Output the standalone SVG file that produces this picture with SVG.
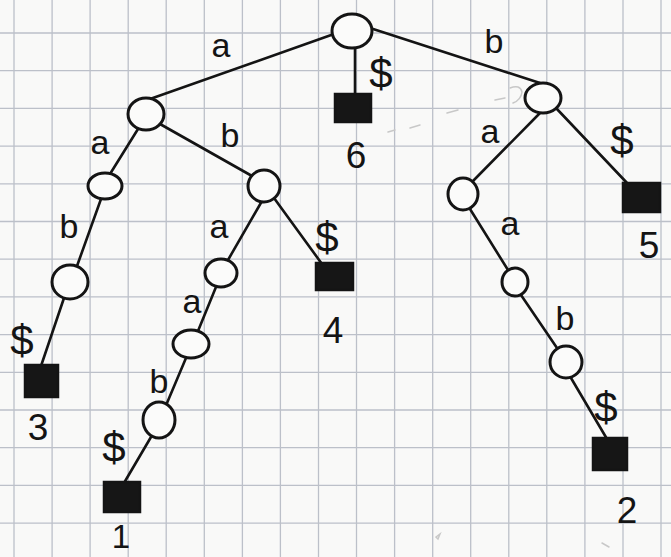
<svg xmlns="http://www.w3.org/2000/svg" width="671" height="557" viewBox="0 0 671 557">
<defs>
<style>
.grid{stroke:#bcc0c9;stroke-width:1.3;fill:none}
.edge{stroke:#141414;stroke-width:2.6;stroke-linecap:round;fill:none}
.node{fill:#fbfbfa;stroke:#141414;stroke-width:3}
.leaf{fill:#161616;stroke:#141414;stroke-width:2.5}
.lbl{font-family:"Liberation Sans","DejaVu Sans",sans-serif;font-size:34px;fill:#141414;text-anchor:middle}
.num{font-family:"Liberation Sans","DejaVu Sans",sans-serif;font-size:37px;fill:#141414;text-anchor:middle}
.dol{font-family:"Liberation Sans","DejaVu Sans",sans-serif;font-size:42px;fill:#141414;text-anchor:middle}
.smudge{stroke:#c8c8c8;stroke-width:1.5;fill:none;stroke-linecap:round}
</style>
</defs>
<rect width="671" height="557" fill="#f9f9f8"/>
<g id="grid">
<path class="grid" d="M14 0V557M52.1 0V557M90.1 0V557M128.2 0V557M166.2 0V557M204.3 0V557M242.4 0V557M280.4 0V557M318.5 0V557M356.5 0V557M394.6 0V557M432.7 0V557M470.7 0V557M508.8 0V557M546.8 0V557M584.9 0V557M623 0V557M661 0V557"/>
<path class="grid" d="M0 33H671M0 70.7H671M0 108.4H671M0 146.1H671M0 183.8H671M0 221.5H671M0 259.2H671M0 296.9H671M0 334.6H671M0 372.3H671M0 410H671M0 447.7H671M0 485.4H671M0 523.1H671"/>
</g>
<g id="smudges">
<path class="smudge" d="M510 88 Q520 84 522 92 Q521 100 513 103"/>
<path class="smudge" d="M495 100 L505 98"/>
<path class="smudge" d="M447 113 L458 110"/>
<path class="smudge" d="M410 128 L420 125"/>
<path class="smudge" d="M388 132 L395 130"/>
<path class="smudge" d="M436 537 l4 -3 l-2 5 z"/>
<path class="smudge" d="M602 543 l7 4"/>
</g>
<g id="connectors">
<line class="edge" x1="334" y1="34" x2="150" y2="99"/>
<line class="edge" x1="370" y1="28" x2="540" y2="83"/>
<line class="edge" x1="355" y1="48" x2="355" y2="95"/>
<line class="edge" x1="138" y1="129" x2="110" y2="174"/>
<line class="edge" x1="160" y1="124" x2="252" y2="176"/>
<line class="edge" x1="101" y1="199" x2="77" y2="266"/>
<line class="edge" x1="64" y1="298" x2="41" y2="366"/>
<line class="edge" x1="262" y1="201" x2="228" y2="260"/>
<line class="edge" x1="274" y1="198" x2="322" y2="264"/>
<line class="edge" x1="216" y1="287" x2="198" y2="331"/>
<line class="edge" x1="186" y1="358" x2="167" y2="403"/>
<line class="edge" x1="151" y1="437" x2="124" y2="483"/>
<line class="edge" x1="540" y1="113" x2="473" y2="181"/>
<line class="edge" x1="556" y1="108" x2="628" y2="184"/>
<line class="edge" x1="470" y1="209" x2="508" y2="270"/>
<line class="edge" x1="521" y1="295" x2="557" y2="348"/>
<line class="edge" x1="571" y1="378" x2="607" y2="439"/>
</g>
<g id="root"><ellipse class="node" cx="352" cy="31" rx="20" ry="17"/></g>
<g id="n-a"><ellipse class="node" cx="146" cy="114" rx="18" ry="16"/></g>
<g id="n-b"><ellipse class="node" cx="543" cy="98" rx="18" ry="15"/></g>
<g id="n-aa"><ellipse class="node" cx="105" cy="186" rx="17" ry="13"/></g>
<g id="n-ab"><ellipse class="node" cx="264" cy="186" rx="16" ry="16"/></g>
<g id="n-aab"><ellipse class="node" cx="70" cy="282" rx="18" ry="17"/></g>
<g id="n-aba"><ellipse class="node" cx="221" cy="273" rx="16" ry="14"/></g>
<g id="n-abaa"><ellipse class="node" cx="191" cy="344" rx="18" ry="14"/></g>
<g id="n-abaab"><ellipse class="node" cx="159" cy="420" rx="16" ry="18"/></g>
<g id="n-ba"><ellipse class="node" cx="463" cy="194" rx="15" ry="16"/></g>
<g id="n-baa"><ellipse class="node" cx="515" cy="282" rx="13" ry="14"/></g>
<g id="n-baab"><ellipse class="node" cx="566" cy="362" rx="16" ry="16"/></g>
<g id="leaf6"><rect class="leaf" x="335" y="94" width="36" height="28"/><text class="num" x="356" y="168">6</text></g>
<g id="leaf3"><rect class="leaf" x="25" y="365" width="33" height="32"/><text class="num" x="38" y="440">3</text></g>
<g id="leaf4"><rect class="leaf" x="316" y="263" width="37" height="27"/><text class="num" x="333" y="343">4</text></g>
<g id="leaf1"><rect class="leaf" x="104" y="482" width="36" height="30"/><text class="num" x="121" y="548" style="font-size:33px">1</text></g>
<g id="leaf5"><rect class="leaf" x="623" y="183" width="37" height="29"/><text class="num" x="649" y="258">5</text></g>
<g id="leaf2"><rect class="leaf" x="593" y="438" width="34" height="32"/><text class="num" x="627" y="523">2</text></g>
<g id="labels">
<text class="lbl" x="221" y="57">a</text>
<text class="lbl" x="494" y="53">b</text>
<text class="dol" x="381" y="88">$</text>
<text class="lbl" x="100" y="154">a</text>
<text class="lbl" x="230" y="147">b</text>
<text class="lbl" x="69" y="238">b</text>
<text class="dol" x="22" y="355">$</text>
<text class="lbl" x="219" y="238">a</text>
<text class="dol" x="327" y="252">$</text>
<text class="lbl" x="192" y="313">a</text>
<text class="lbl" x="159" y="393">b</text>
<text class="dol" x="114" y="462">$</text>
<text class="lbl" x="490" y="143">a</text>
<text class="dol" x="622" y="155">$</text>
<text class="lbl" x="510" y="235">a</text>
<text class="lbl" x="565" y="330">b</text>
<text class="dol" x="606" y="422">$</text>
</g>
</svg>
